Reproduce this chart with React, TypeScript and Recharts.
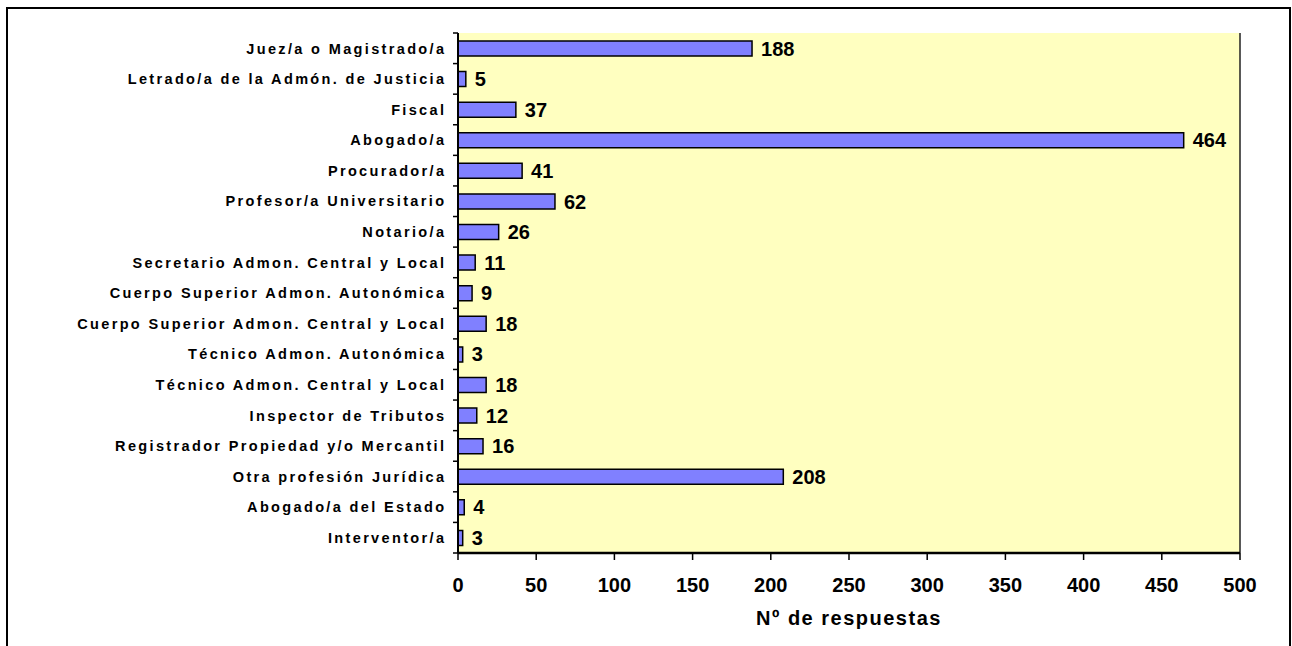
import React from "react";
import { BarChart, Bar, XAxis, YAxis, CartesianGrid, LabelList, ReferenceLine } from "recharts";

const categories = [
  "Juez/a o Magistrado/a",
  "Letrado/a de la Admón. de Justicia",
  "Fiscal",
  "Abogado/a",
  "Procurador/a",
  "Profesor/a Universitario",
  "Notario/a",
  "Secretario Admon. Central y Local",
  "Cuerpo Superior Admon. Autonómica",
  "Cuerpo Superior Admon. Central y Local",
  "Técnico Admon. Autonómica",
  "Técnico Admon. Central y Local",
  "Inspector de Tributos",
  "Registrador Propiedad y/o Mercantil",
  "Otra profesión Jurídica",
  "Abogado/a del Estado",
  "Interventor/a",
];
const respuestas = [188, 5, 37, 464, 41, 62, 26, 11, 9, 18, 3, 18, 12, 16, 208, 4, 3];
const xTicks = [0, 50, 100, 150, 200, 250, 300, 350, 400, 450, 500];
const xTitle = "Nº de respuestas";

const data = categories.map((name, i) => ({ name, value: respuestas[i] }));

const FONT = '"Liberation Sans", Arial, Helvetica, sans-serif';
const W = 1292;
const H = 646;
const PLOT_TOP = 33;
const PLOT_BOTTOM = 553;
const Y_AXIS_W = 458;
const X_AXIS_H = 80;
const BAND = (PLOT_BOTTOM - PLOT_TOP) / categories.length;
const TICK_MARGIN = 12;
const LS = 2.35;

const CategoryTick = (props: any) => {
  const { x, y, payload, index } = props;
  const axisX = x + TICK_MARGIN;
  const last = index === categories.length - 1;
  return (
    <g>
      <text
        x={axisX - 14 + LS}
        y={y}
        dy="0.36em"
        textAnchor="end"
        fontFamily={FONT}
        fontWeight="bold"
        fontSize={14.5}
        letterSpacing={LS}
        fill="#000"
      >
        {payload.value}
      </text>
      <line x1={axisX - 5} x2={axisX} y1={y - BAND / 2} y2={y - BAND / 2} stroke="#000" strokeWidth={1.5} />
      {last && (
        <line x1={axisX - 5} x2={axisX} y1={y + BAND / 2} y2={y + BAND / 2} stroke="#000" strokeWidth={1.5} />
      )}
    </g>
  );
};

const XTitle = (props: any) => {
  const vb = props.viewBox || {};
  return (
    <text
      x={vb.x + vb.width / 2}
      y={vb.y + 72}
      textAnchor="middle"
      fontFamily={FONT}
      fontWeight="bold"
      fontSize={20}
      letterSpacing={1.5}
      fill="#000"
    >
      {xTitle}
    </text>
  );
};

export default function App() {
  return (
    <div style={{ position: "absolute", left: 0, top: 0, width: W, height: H, background: "#fff" }}>
      <div
        style={{
          position: "absolute",
          left: 6,
          top: 7,
          width: 1285,
          height: 700,
          border: "2px solid #000",
          boxSizing: "border-box",
        }}
      />
      <div style={{ position: "absolute", left: 0, top: 0 }}>
        <BarChart
          width={W}
          height={H}
          data={data}
          layout="vertical"
          margin={{ top: PLOT_TOP, right: W - 1240, left: 0, bottom: H - PLOT_BOTTOM - X_AXIS_H }}
          barCategoryGap={0}
        >
          <CartesianGrid fill="#FFFFC0" horizontal={false} vertical={false} stroke="none" />
          <XAxis
            type="number"
            domain={[0, 500]}
            ticks={xTicks}
            interval={0}
            height={X_AXIS_H}
            tickSize={7}
            tickMargin={18}
            axisLine={{ stroke: "#000", strokeWidth: 2.5 }}
            tickLine={{ stroke: "#000", strokeWidth: 1.5 }}
            tick={{ fontFamily: FONT, fontWeight: "bold", fontSize: 20, fill: "#000" }}
            label={<XTitle />}
          />
          <XAxis
            xAxisId="top"
            orientation="top"
            type="number"
            domain={[0, 500]}
            height={0}
            tick={false}
            tickLine={false}
            axisLine={{ stroke: "#333", strokeWidth: 1.2 }}
          />
          <YAxis
            type="category"
            dataKey="name"
            width={Y_AXIS_W}
            interval={0}
            tickSize={0}
            tickMargin={TICK_MARGIN}
            tickLine={false}
            axisLine={{ stroke: "#000", strokeWidth: 2 }}
            tick={<CategoryTick />}
          />
          <ReferenceLine x={500} stroke="#222" strokeWidth={1.5} />
          <Bar
            dataKey="value"
            fill="#8080FF"
            stroke="#000"
            strokeWidth={1.5}
            barSize={15}
            isAnimationActive={false}
          >
            <LabelList
              dataKey="value"
              position="right"
              offset={9}
              style={{ fontFamily: FONT, fontWeight: "bold", fontSize: 20, fill: "#000" }}
            />
          </Bar>
        </BarChart>
      </div>
    </div>
  );
}
